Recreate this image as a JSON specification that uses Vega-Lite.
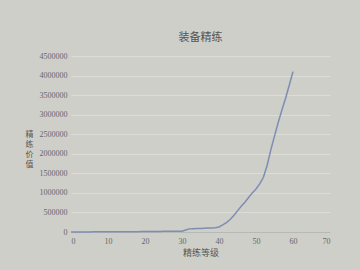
{
  "$schema": "https://vega.github.io/schema/vega-lite/v6.json",
  "autosize": {"type": "none"},
  "width": 259,
  "height": 176,
  "padding": {"left": 71, "top": 56, "right": 30, "bottom": 38},
  "background": "#cfcfca",
  "title": {"text": "装备精练", "font": "Noto Sans CJK SC", "fontSize": 11, "fontWeight": "normal", "color": "#555555", "offset": 9},
  "config": {"view": {"stroke": null}},
  "data": {"values": [
    {"level": 0, "value": 0}, {"level": 1, "value": 1000}, {"level": 2, "value": 1500}, {"level": 3, "value": 2000},
    {"level": 4, "value": 2500}, {"level": 5, "value": 3000}, {"level": 6, "value": 3500}, {"level": 7, "value": 4000},
    {"level": 8, "value": 4500}, {"level": 9, "value": 5000}, {"level": 10, "value": 5500}, {"level": 11, "value": 6000},
    {"level": 12, "value": 6500}, {"level": 13, "value": 7000}, {"level": 14, "value": 7500}, {"level": 15, "value": 8000},
    {"level": 16, "value": 8500}, {"level": 17, "value": 9000}, {"level": 18, "value": 9500}, {"level": 19, "value": 10000},
    {"level": 20, "value": 11000}, {"level": 21, "value": 12000}, {"level": 22, "value": 13000}, {"level": 23, "value": 14000},
    {"level": 24, "value": 15000}, {"level": 25, "value": 16000}, {"level": 26, "value": 17000}, {"level": 27, "value": 18000},
    {"level": 28, "value": 19000}, {"level": 29, "value": 20000}, {"level": 30, "value": 22000}, {"level": 31, "value": 50000},
    {"level": 32, "value": 80000}, {"level": 33, "value": 84000}, {"level": 34, "value": 88000}, {"level": 35, "value": 92000},
    {"level": 36, "value": 96000}, {"level": 37, "value": 100000}, {"level": 38, "value": 104000}, {"level": 39, "value": 110000},
    {"level": 40, "value": 130000}, {"level": 41, "value": 180000}, {"level": 42, "value": 240000}, {"level": 43, "value": 320000},
    {"level": 44, "value": 420000}, {"level": 45, "value": 540000}, {"level": 46, "value": 660000}, {"level": 47, "value": 760000},
    {"level": 48, "value": 880000}, {"level": 49, "value": 1000000}, {"level": 50, "value": 1100000}, {"level": 51, "value": 1230000},
    {"level": 52, "value": 1400000}, {"level": 53, "value": 1700000}, {"level": 54, "value": 2100000}, {"level": 55, "value": 2450000},
    {"level": 56, "value": 2800000}, {"level": 57, "value": 3120000}, {"level": 58, "value": 3420000}, {"level": 59, "value": 3760000},
    {"level": 60, "value": 4100000}
  ]},
  "mark": {"type": "line", "color": "#7d8db3", "strokeWidth": 1.5},
  "encoding": {
    "x": {
      "field": "level", "type": "quantitative",
      "scale": {"domain": [0, 70], "nice": false},
      "axis": {
        "title": "精练等级", "titleFont": "Noto Sans CJK SC", "titleFontSize": 9, "titleFontWeight": "normal", "titleColor": "#555555", "titlePadding": 3,
        "values": [0, 10, 20, 30, 40, 50, 60, 70], "grid": false, "ticks": false,
        "domainColor": "#b8b8b4", "labelFont": "Liberation Serif", "labelFontSize": 8, "labelColor": "#666666", "labelPadding": 5
      }
    },
    "y": {
      "field": "value", "type": "quantitative",
      "scale": {"domain": [0, 4500000], "nice": false},
      "axis": {
        "title": ["精", "练", "价", "值"], "titleAngle": 0, "titleFont": "Noto Sans CJK SC", "titleFontSize": 8, "titleFontWeight": "normal", "titleColor": "#555555",
        "titleLineHeight": 10, "titleAlign": "center", "titleBaseline": "middle", "titleX": -42, "titleY": 78,
        "values": [0, 500000, 1000000, 1500000, 2000000, 2500000, 3000000, 3500000, 4000000, 4500000],
        "format": "d", "grid": true, "gridColor": "#dcdcd8", "ticks": false, "domain": false,
        "labelFont": "Liberation Serif", "labelFontSize": 8, "labelColor": "#666666", "labelPadding": 4
      }
    }
  }
}
